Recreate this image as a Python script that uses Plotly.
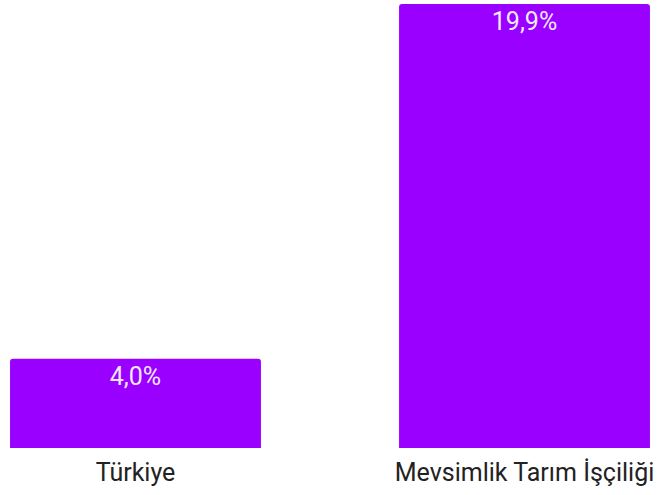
import plotly.graph_objects as go

categories = ["Türkiye", "Mevsimlik Tarım İşçiliği"]
values = [4.0, 19.9]
labels = ["4,0%", "19,9%"]

fig = go.Figure(
    go.Bar(
        x=categories,
        y=values,
        text=labels,
        textposition="inside",
        insidetextanchor="end",
        textangle=0,
        constraintext="none",
        textfont=dict(family="Roboto", size=25, color="#f3e6ff"),
        marker=dict(color="#9900ff", line=dict(width=0), cornerradius=3),
        hoverinfo="skip",
    )
)

fig.update_layout(
    width=660,
    height=495,
    margin=dict(l=10, r=10, t=4, b=47),
    paper_bgcolor="white",
    plot_bgcolor="white",
    bargap=0.355,
    showlegend=False,
    font=dict(family="Roboto", color="#222222"),
)
fig.update_xaxes(
    range=[-0.3226, 1.3226],
    showgrid=False,
    showline=False,
    zeroline=False,
    ticks="",
    ticklabelstandoff=7,
    tickfont=dict(family="Roboto", size=25, color="#222222"),
)
fig.update_yaxes(range=[0, 19.9], visible=False)

# page body has a default margin, drop it so the figure sits at 0,0
fig.write_html(
    "out.html",
    config={"displayModeBar": False},
    post_script="document.body.style.margin='0px';",
)
